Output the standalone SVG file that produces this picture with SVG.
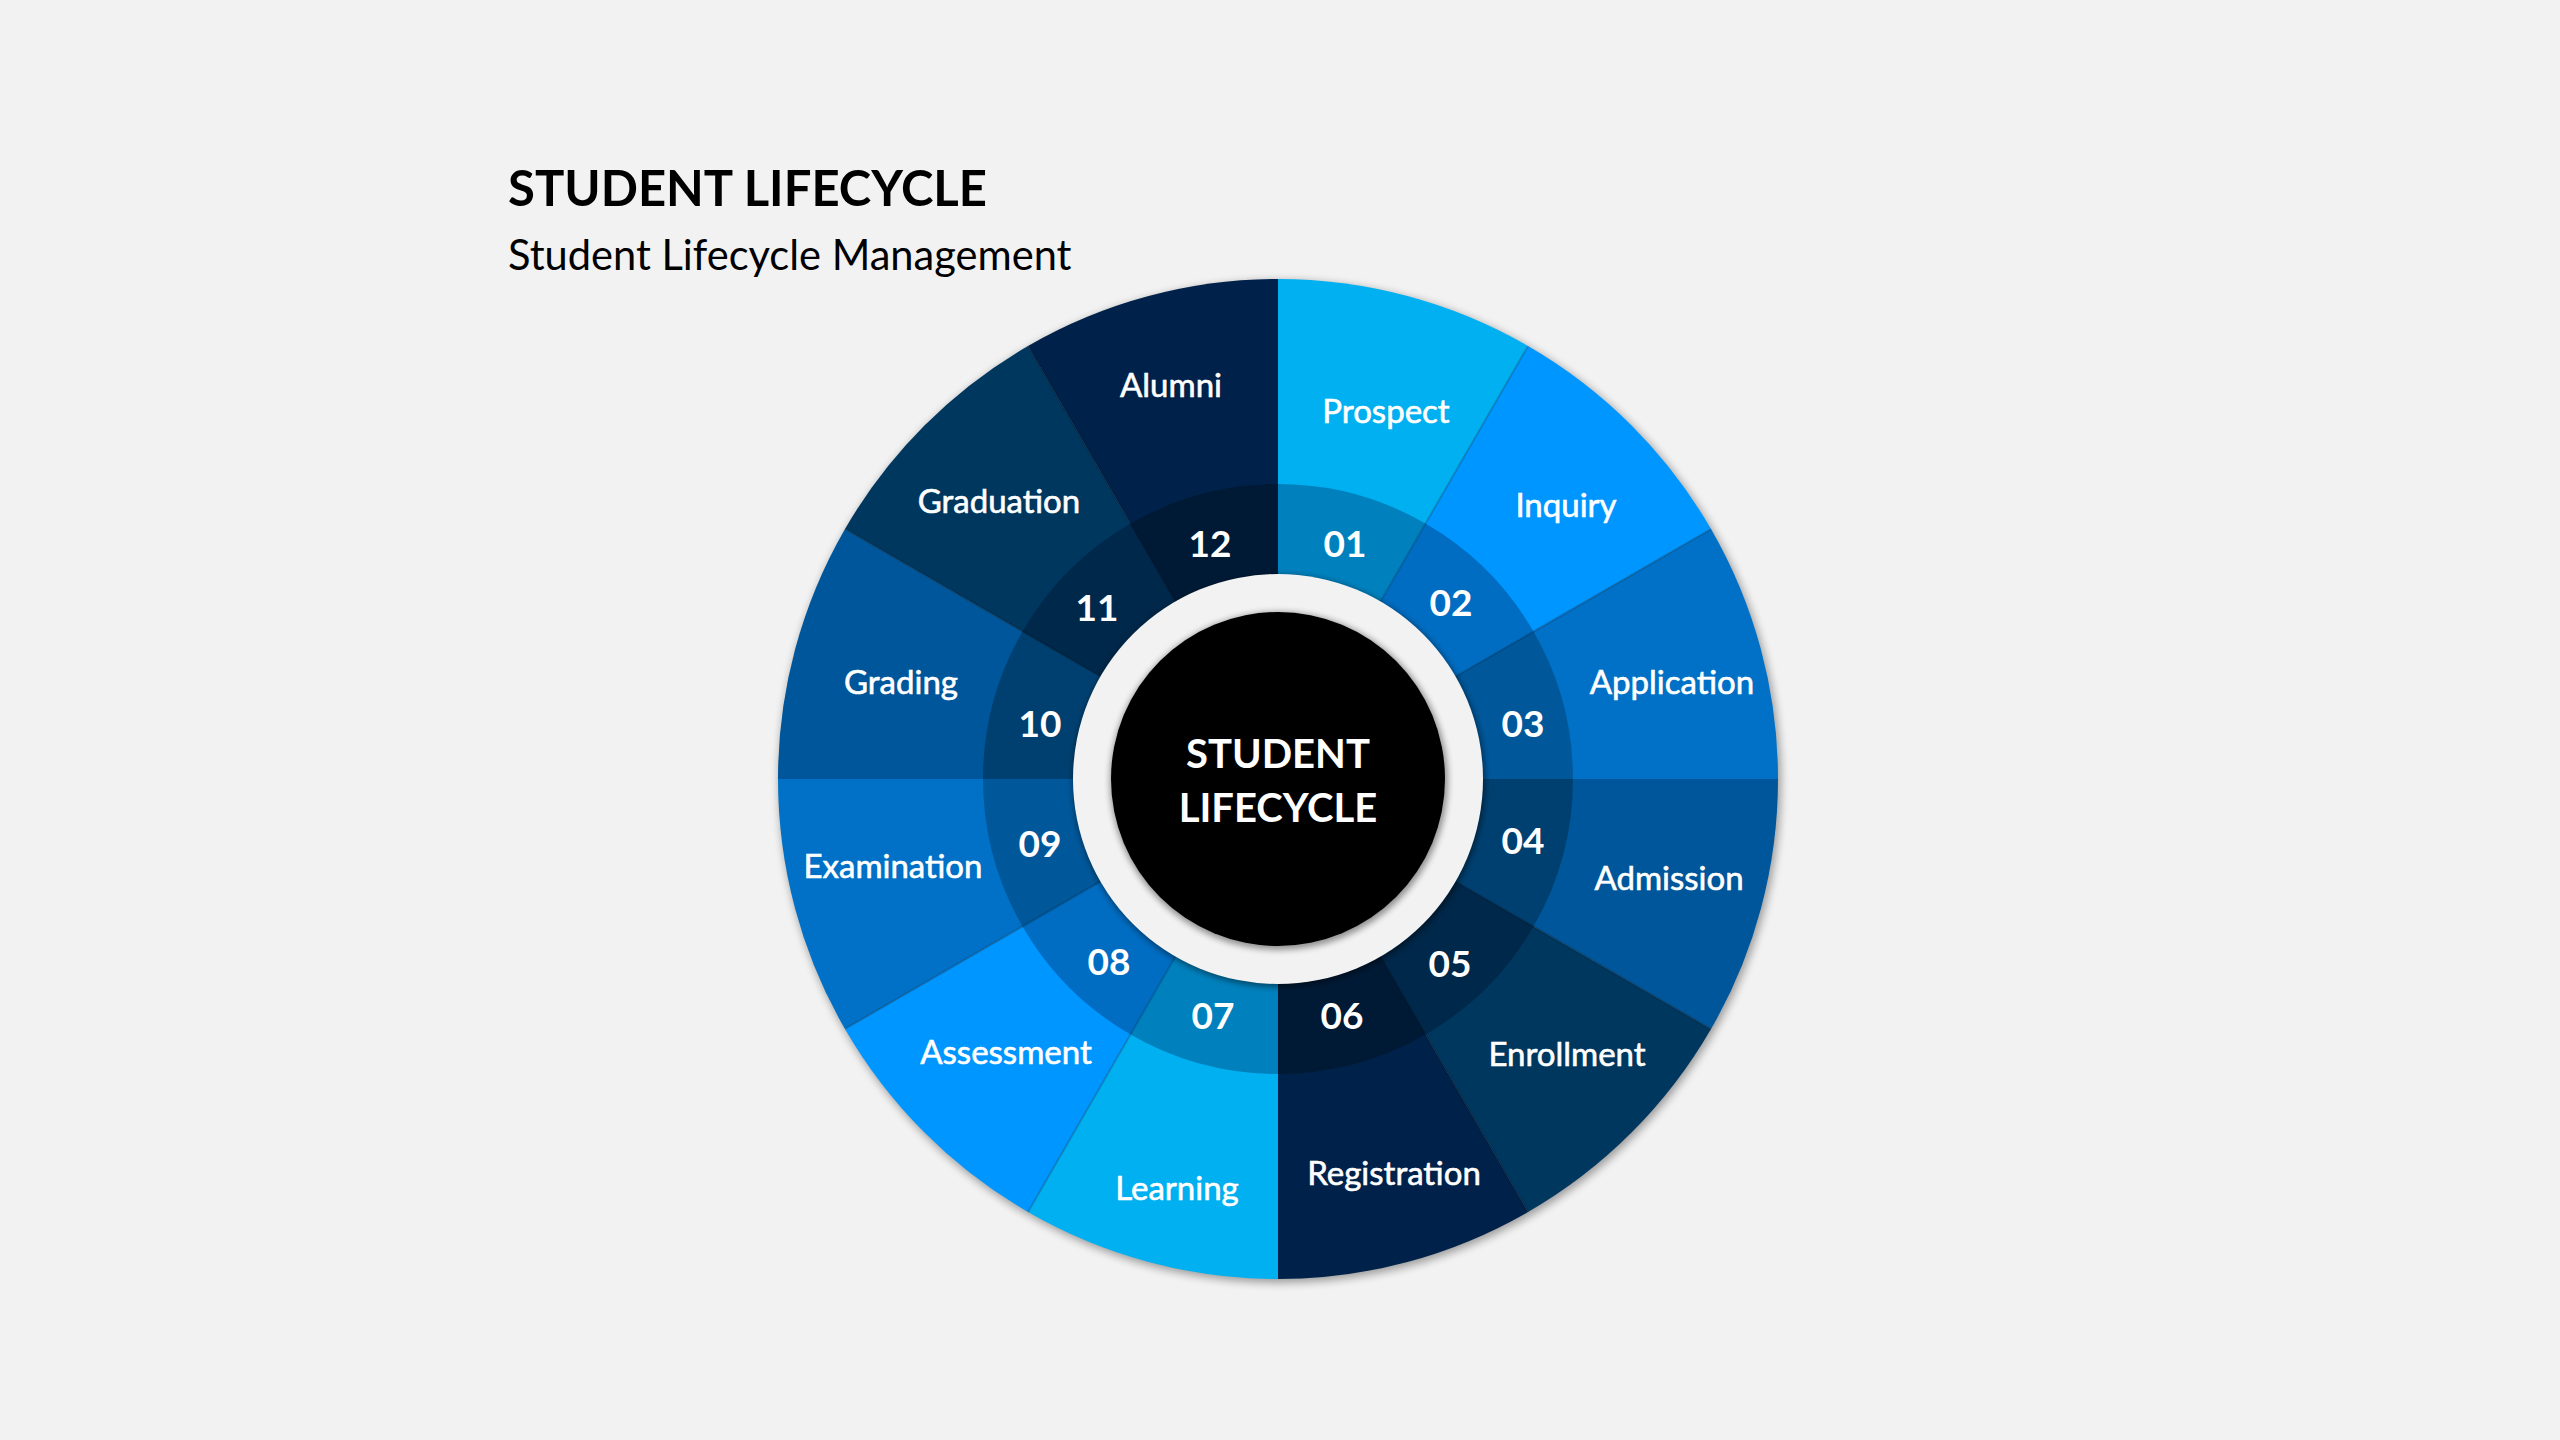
<svg xmlns="http://www.w3.org/2000/svg" width="2560" height="1440" viewBox="0 0 2560 1440">
  <style>
    .lbl { font-family: Lato, "Liberation Sans", sans-serif; font-size: 33px; fill: #FFFFFF; stroke: #FFFFFF; stroke-width: 0.6; text-anchor: middle; dominant-baseline: central; }
    .num { font-family: Lato, "Liberation Sans", sans-serif; font-size: 37px; font-weight: 700; fill: #FFFFFF; text-anchor: middle; dominant-baseline: central; }
    .ctr { font-family: Lato, "Liberation Sans", sans-serif; font-size: 40px; font-weight: 700; fill: #FFFFFF; text-anchor: middle; dominant-baseline: central; }
    .title { font-family: Lato, "Liberation Sans", sans-serif; font-size: 49px; font-weight: 700; fill: #000000; }
    .sub { font-family: Lato, "Liberation Sans", sans-serif; font-size: 41.6px; fill: #000000; }
    .div { stroke: #000000; stroke-opacity: 0.18; stroke-width: 2; }
  </style>
  <defs>
    <filter id="outerShadow" x="-20%" y="-20%" width="140%" height="140%">
      <feGaussianBlur stdDeviation="4"/>
    </filter>
    <filter id="ringShadow" x="-20%" y="-20%" width="140%" height="140%">
      <feGaussianBlur stdDeviation="3"/>
    </filter>
  </defs>
  <rect x="0" y="0" width="2560" height="1440" fill="#F2F2F2"/>

  <g id="title">
    <text class="title" x="508" y="206">STUDENT LIFECYCLE</text>
    <text class="sub" x="508" y="270">Student Lifecycle Management</text>
  </g>

  <circle cx="1280" cy="782" r="501" fill="#000000" opacity="0.35" filter="url(#outerShadow)"/>

  <g id="node-01">
    <path d="M1278 779 L1278 279 A500 500 0 0 1 1528 345.99 Z" fill="#00B0F0"/>
    <path d="M1278 779 L1278 484 A295 295 0 0 1 1425.5 523.52 Z" fill="#0081BE"/>
    <text class="lbl" x="1386" y="410">Prospect</text>
    <text class="num" x="1345" y="542">01</text>
  </g>
  <g id="node-02">
    <path d="M1278 779 L1528 345.99 A500 500 0 0 1 1711.01 529 Z" fill="#0096FF"/>
    <path d="M1278 779 L1425.5 523.52 A295 295 0 0 1 1533.48 631.5 Z" fill="#006DC2"/>
    <text class="lbl" x="1566" y="504">Inquiry</text>
    <text class="num" x="1451" y="601">02</text>
  </g>
  <g id="node-03">
    <path d="M1278 779 L1711.01 529 A500 500 0 0 1 1778 779 Z" fill="#0071C6"/>
    <path d="M1278 779 L1533.48 631.5 A295 295 0 0 1 1573 779 Z" fill="#00589B"/>
    <text class="lbl" x="1672" y="681">Application</text>
    <text class="num" x="1523" y="722">03</text>
  </g>
  <g id="node-04">
    <path d="M1278 779 L1778 779 A500 500 0 0 1 1711.01 1029 Z" fill="#00569A"/>
    <path d="M1278 779 L1573 779 A295 295 0 0 1 1533.48 926.5 Z" fill="#004070"/>
    <text class="lbl" x="1669" y="877">Admission</text>
    <text class="num" x="1523" y="839">04</text>
  </g>
  <g id="node-05">
    <path d="M1278 779 L1711.01 1029 A500 500 0 0 1 1528 1212.01 Z" fill="#00375F"/>
    <path d="M1278 779 L1533.48 926.5 A295 295 0 0 1 1425.5 1034.48 Z" fill="#00284A"/>
    <text class="lbl" x="1567" y="1053">Enrollment</text>
    <text class="num" x="1450" y="962">05</text>
  </g>
  <g id="node-06">
    <path d="M1278 779 L1528 1212.01 A500 500 0 0 1 1278 1279 Z" fill="#00224A"/>
    <path d="M1278 779 L1425.5 1034.48 A295 295 0 0 1 1278 1074 Z" fill="#001A36"/>
    <text class="lbl" x="1394" y="1172">Registration</text>
    <text class="num" x="1342" y="1014">06</text>
  </g>
  <g id="node-07">
    <path d="M1278 779 L1278 1279 A500 500 0 0 1 1028 1212.01 Z" fill="#00B0F0"/>
    <path d="M1278 779 L1278 1074 A295 295 0 0 1 1130.5 1034.48 Z" fill="#0081BE"/>
    <text class="lbl" x="1177" y="1187">Learning</text>
    <text class="num" x="1213" y="1014">07</text>
  </g>
  <g id="node-08">
    <path d="M1278 779 L1028 1212.01 A500 500 0 0 1 844.99 1029 Z" fill="#0096FF"/>
    <path d="M1278 779 L1130.5 1034.48 A295 295 0 0 1 1022.52 926.5 Z" fill="#006DC2"/>
    <text class="lbl" x="1006" y="1051">Assessment</text>
    <text class="num" x="1109" y="960">08</text>
  </g>
  <g id="node-09">
    <path d="M1278 779 L844.99 1029 A500 500 0 0 1 778 779 Z" fill="#0071C6"/>
    <path d="M1278 779 L1022.52 926.5 A295 295 0 0 1 983 779 Z" fill="#00589B"/>
    <text class="lbl" x="893" y="865">Examination</text>
    <text class="num" x="1040" y="842">09</text>
  </g>
  <g id="node-10">
    <path d="M1278 779 L778 779 A500 500 0 0 1 844.99 529 Z" fill="#00569A"/>
    <path d="M1278 779 L983 779 A295 295 0 0 1 1022.52 631.5 Z" fill="#004070"/>
    <text class="lbl" x="901" y="681">Grading</text>
    <text class="num" x="1040" y="722">10</text>
  </g>
  <g id="node-11">
    <path d="M1278 779 L844.99 529 A500 500 0 0 1 1028 345.99 Z" fill="#00375F"/>
    <path d="M1278 779 L1022.52 631.5 A295 295 0 0 1 1130.5 523.52 Z" fill="#00284A"/>
    <text class="lbl" x="999" y="500">Graduation</text>
    <text class="num" x="1097" y="606">11</text>
  </g>
  <g id="node-12">
    <path d="M1278 779 L1028 345.99 A500 500 0 0 1 1278 279 Z" fill="#00224A"/>
    <path d="M1278 779 L1130.5 523.52 A295 295 0 0 1 1278 484 Z" fill="#001A36"/>
    <text class="lbl" x="1171" y="384">Alumni</text>
    <text class="num" x="1210" y="542">12</text>
  </g>

  <g id="connectors">
    <line class="div" x1="1278" y1="779" x2="1528" y2="345.99"/>
    <line class="div" x1="1278" y1="779" x2="1711.01" y2="529"/>
    <line class="div" x1="1278" y1="779" x2="1711.01" y2="1029"/>
    <line class="div" x1="1278" y1="779" x2="1528" y2="1212.01"/>
    <line class="div" x1="1278" y1="779" x2="1028" y2="1212.01"/>
    <line class="div" x1="1278" y1="779" x2="844.99" y2="1029"/>
    <line class="div" x1="1278" y1="779" x2="844.99" y2="529"/>
    <line class="div" x1="1278" y1="779" x2="1028" y2="345.99"/>
  </g>

  <g id="center">
    <circle cx="1279" cy="781" r="206" fill="#000000" opacity="0.45" filter="url(#ringShadow)"/>
    <circle cx="1278" cy="779" r="205" fill="#F2F2F2"/>
    <circle cx="1279" cy="781" r="169" fill="#000000" opacity="0.4" filter="url(#ringShadow)"/>
    <circle cx="1278" cy="779" r="167" fill="#000000"/>
    <text class="ctr" x="1278" y="753">STUDENT</text>
    <text class="ctr" x="1278" y="807">LIFECYCLE</text>
  </g>
</svg>
